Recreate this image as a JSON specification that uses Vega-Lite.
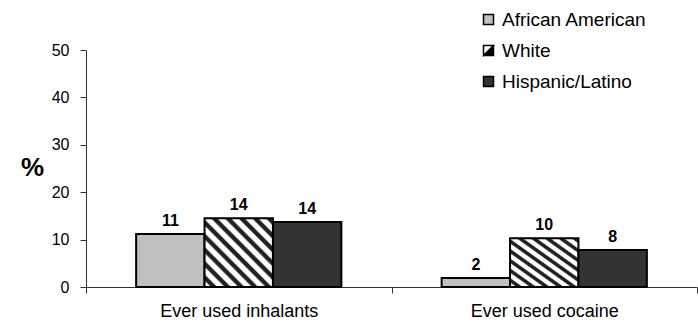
{
  "$schema": "https://vega.github.io/schema/vega-lite/v6.json",
  "autosize": {"type": "none"},
  "width": 611,
  "height": 237,
  "padding": {"left": 86, "top": 50, "right": 1, "bottom": 38},
  "background": "white",
  "config": {
    "view": {"stroke": null},
    "font": "Liberation Sans",
    "axis": {"domainColor": "#333333", "tickColor": "#333333", "labelColor": "black", "titleColor": "black", "grid": false}
  },
  "data": {
    "values": [
      {"measure": "Ever used inhalants", "group": "African American", "pct": 11.2, "label": "11"},
      {"measure": "Ever used inhalants", "group": "White", "pct": 14.5, "label": "14"},
      {"measure": "Ever used inhalants", "group": "Hispanic/Latino", "pct": 13.7, "label": "14"},
      {"measure": "Ever used cocaine", "group": "African American", "pct": 1.9, "label": "2"},
      {"measure": "Ever used cocaine", "group": "White", "pct": 10.3, "label": "10"},
      {"measure": "Ever used cocaine", "group": "Hispanic/Latino", "pct": 7.8, "label": "8"}
    ]
  },
  "encoding": {
    "x": {
      "field": "measure", "type": "nominal", "sort": null,
      "scale": {"paddingInner": 0, "paddingOuter": 0},
      "axis": {"title": null, "labelAngle": 0, "labelFontSize": 18, "tickBand": "extent", "tickSize": 6, "labelPadding": 9, "domainWidth": 1}
    },
    "xOffset": {
      "field": "group", "type": "nominal",
      "sort": ["African American", "White", "Hispanic/Latino"],
      "scale": {"paddingInner": 0, "paddingOuter": 0.733}
    },
    "y": {
      "field": "pct", "type": "quantitative",
      "scale": {"domain": [0, 50]},
      "axis": {
        "title": "%", "titleAngle": 0, "titleFontSize": 26, "titleFontWeight": "bold",
        "titleX": -54, "titleY": 117, "titleAlign": "center", "titleBaseline": "middle",
        "values": [0, 10, 20, 30, 40, 50], "labelFontSize": 16, "tickSize": 6, "labelPadding": 11
      }
    }
  },
  "layer": [
    {
      "mark": {"type": "bar", "stroke": "black", "strokeWidth": 2},
      "encoding": {
        "fill": {
          "condition": {
            "test": "datum.group === 'White'",
            "value": {
              "gradient": "linear", "x1": 0, "y1": 1, "x2": 1, "y2": 0,
              "stops": [
                {"offset": 0, "color": "white"}, {"offset": 0.04, "color": "white"}, {"offset": 0.055, "color": "#222222"}, {"offset": 0.085, "color": "#222222"},
                {"offset": 0.1, "color": "white"}, {"offset": 0.14, "color": "white"}, {"offset": 0.155, "color": "#222222"}, {"offset": 0.185, "color": "#222222"},
                {"offset": 0.2, "color": "white"}, {"offset": 0.24, "color": "white"}, {"offset": 0.255, "color": "#222222"}, {"offset": 0.285, "color": "#222222"},
                {"offset": 0.3, "color": "white"}, {"offset": 0.34, "color": "white"}, {"offset": 0.355, "color": "#222222"}, {"offset": 0.385, "color": "#222222"},
                {"offset": 0.4, "color": "white"}, {"offset": 0.44, "color": "white"}, {"offset": 0.455, "color": "#222222"}, {"offset": 0.485, "color": "#222222"},
                {"offset": 0.5, "color": "white"}, {"offset": 0.54, "color": "white"}, {"offset": 0.555, "color": "#222222"}, {"offset": 0.585, "color": "#222222"},
                {"offset": 0.6, "color": "white"}, {"offset": 0.64, "color": "white"}, {"offset": 0.655, "color": "#222222"}, {"offset": 0.685, "color": "#222222"},
                {"offset": 0.7, "color": "white"}, {"offset": 0.74, "color": "white"}, {"offset": 0.755, "color": "#222222"}, {"offset": 0.785, "color": "#222222"},
                {"offset": 0.8, "color": "white"}, {"offset": 0.84, "color": "white"}, {"offset": 0.855, "color": "#222222"}, {"offset": 0.885, "color": "#222222"},
                {"offset": 0.9, "color": "white"}, {"offset": 0.94, "color": "white"}, {"offset": 0.955, "color": "#222222"}, {"offset": 0.985, "color": "#222222"},
                {"offset": 1, "color": "white"}
              ]
            }
          },
          "field": "group", "type": "nominal",
          "sort": ["African American", "White", "Hispanic/Latino"],
          "scale": {"domain": ["African American", "White", "Hispanic/Latino"], "range": ["#c0c0c0", "#000000", "#333333"]},
          "legend": {
            "title": null, "orient": "none", "legendX": 393, "legendY": -40,
            "symbolType": "square", "symbolSize": 100, "symbolStrokeColor": "black", "symbolStrokeWidth": 1.5,
            "symbolOpacity": 1, "labelFontSize": 19, "labelColor": "black", "labelOffset": 4, "rowPadding": 11,
            "encode": {
              "symbols": {
                "update": {
                  "stroke": {"value": "black"},
                  "strokeWidth": {"value": 1.5},
                  "shape": [
                    {"test": "datum.value === 'White'", "value": "M-1,-1L1,-1L1,1L-1,1Z M-1,-1L-1,1L1,-1Z"},
                    {"value": "square"}
                  ]
                }
              }
            }
          }
        }
      }
    },
    {
      "mark": {"type": "text", "baseline": "bottom", "dy": -5, "fontSize": 16, "fontWeight": "bold", "color": "black"},
      "encoding": {"text": {"field": "label"}}
    }
  ]
}
